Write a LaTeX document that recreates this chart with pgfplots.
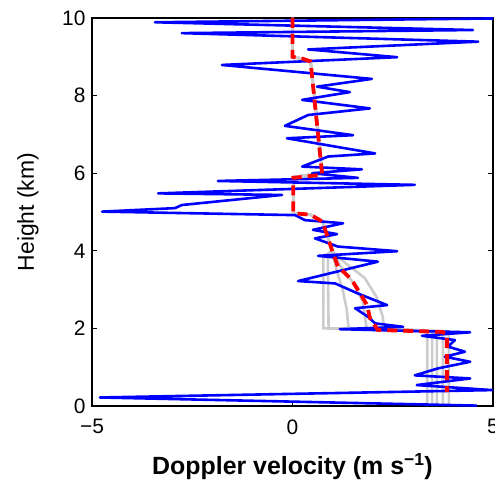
\documentclass[border=0pt]{standalone}
\usepackage{pgfplots}
\pgfplotsset{compat=1.18}
\usepackage{fontspec}
\setmainfont{Liberation Sans}
\definecolor{mblue}{RGB}{0,0,255}
\definecolor{mred}{RGB}{255,0,0}
\definecolor{mgrey}{RGB}{204,204,204}
\begin{document}
\begin{tikzpicture}
\begin{axis}[
  scale only axis,
  width=401bp, height=388bp,
  xmin=-5, xmax=5, ymin=0, ymax=10,
  xtick={-5,0,5}, xticklabels={−5,0,5},
  ytick={0,2,4,6,8,10},
  tick align=inside,
  major tick length=5bp,
  axis line style={line width=1.2bp},
  every tick/.style={black, line width=1bp},
  tick label style={font=\fontsize{21}{24}\selectfont},
  /pgf/number format/assume math mode=true,
  xticklabel style={yshift=-10bp},
  yticklabel style={xshift=-3bp},
  every axis y label/.style={at={(axis description cs:-0.16,0.5)},rotate=90,anchor=center,font=\fontsize{23}{26}\selectfont},
  every axis x label/.style={at={(axis description cs:0.5,-0.157)},anchor=center,font=\fontsize{25}{29}\selectfont\bfseries},
  xlabel={Doppler velocity (m s\textsuperscript{−1})},
  ylabel={Height (km)},
  clip=true,
]
% grey profiles
\addplot[mgrey, line width=2.6bp] coordinates {(0,10)(0,9.0)(0.45,8.9)(0.75,6.0)(0.02,5.9)(0.02,4.97)(0.45,4.93)(0.75,4.75)(0.99,4.0)(0.77,3.85)(0.77,2.0)(1.2,2.0)(3.36,1.92)(3.36,0)};
\addplot[mgrey, line width=2.6bp] coordinates {(0,10)(0,9.0)(0.45,8.9)(0.75,6.0)(0.02,5.9)(0.02,4.97)(0.45,4.93)(0.75,4.75)(0.99,4.0)(0.88,3.85)(0.9,2.0)(1.3,1.98)(3.48,1.92)(3.48,0)};
\addplot[mgrey, line width=2.6bp] coordinates {(0,10)(0,9.0)(0.45,8.9)(0.75,6.0)(0.02,5.9)(0.02,4.97)(0.45,4.93)(0.75,4.75)(0.99,4.0)(1.1,3.5)(1.25,3.0)(1.35,2.5)(1.4,2.0)(3.6,1.92)(3.6,0)};
\addplot[mgrey, line width=2.6bp] coordinates {(0,10)(0,9.0)(0.45,8.9)(0.75,6.0)(0.02,5.9)(0.02,4.97)(0.45,4.93)(0.75,4.75)(0.99,4.0)(1.2,3.6)(1.5,3.2)(1.75,2.7)(1.85,2.0)(3.75,1.92)(3.75,0)};
\addplot[mgrey, line width=2.6bp] coordinates {(0,10)(0,9.0)(0.45,8.9)(0.75,6.0)(0.02,5.9)(0.02,4.97)(0.45,4.93)(0.75,4.75)(0.99,4.0)(1.3,3.7)(1.8,3.3)(2.1,2.8)(2.25,2.3)(2.28,2.0)(3.9,1.92)(3.9,0)};
% blue observed profile
\addplot[mblue, line width=2.6bp, line join=round] coordinates {
(6.0,10.0)(-3.43,9.89)(4.50,9.69)(-2.76,9.61)(4.63,9.39)(0.39,9.19)(2.61,8.99)(-1.76,8.79)
(1.98,8.43)(0.61,8.23)(1.43,8.09)(0.24,7.89)(1.93,7.67)(0.39,7.50)(-0.19,7.22)(1.51,6.98)
(-0.14,6.90)(2.06,6.51)(0.89,6.43)(0.24,6.17)(1.73,6.10)(0.49,6.00)(1.63,5.88)(-1.86,5.80)
(3.05,5.70)(-3.35,5.48)(-0.26,5.44)(-2.76,5.18)(-2.93,5.10)(-4.75,5.01)(0.06,4.92)(0.31,4.79)
(1.26,4.71)(0.51,4.54)(1.11,4.43)(0.56,4.32)(1.13,4.11)(2.61,3.99)(0.64,3.87)(2.13,3.72)
(0.14,3.22)(1.06,3.16)(1.63,2.90)(2.36,2.60)(1.56,2.52)(1.88,2.30)(2.06,2.13)(2.76,2.04)
(1.18,1.98)(4.43,1.90)(3.23,1.81)(4.05,1.70)(3.88,1.53)(4.30,1.40)(3.80,1.27)(4.43,1.14)
(3.63,0.97)(3.05,0.79)(4.43,0.71)(3.10,0.54)(4.98,0.41)(-4.80,0.22)(4.60,0.01)};
% red mean profile
\addplot[mred, line width=3.8bp, dash pattern=on 10bp off 6bp] coordinates {
(0,10)(0,9.0)(0.25,8.95)(0.45,8.88)(0.74,5.96)(0.02,5.88)(0.02,4.97)(0.45,4.93)(0.75,4.75)
(0.99,4.0)(1.13,3.6)(1.48,3.25)(1.86,2.6)(1.93,2.27)(2.13,1.96)(3.73,1.91)(3.85,1.85)(3.85,0.36)};
\end{axis}
\pgfresetboundingbox
\path[use as bounding box] ([xshift=-92bp,yshift=-77bp]current axis.south west) rectangle ([xshift=2bp,yshift=18bp]current axis.north east);
\end{tikzpicture}
\end{document}
